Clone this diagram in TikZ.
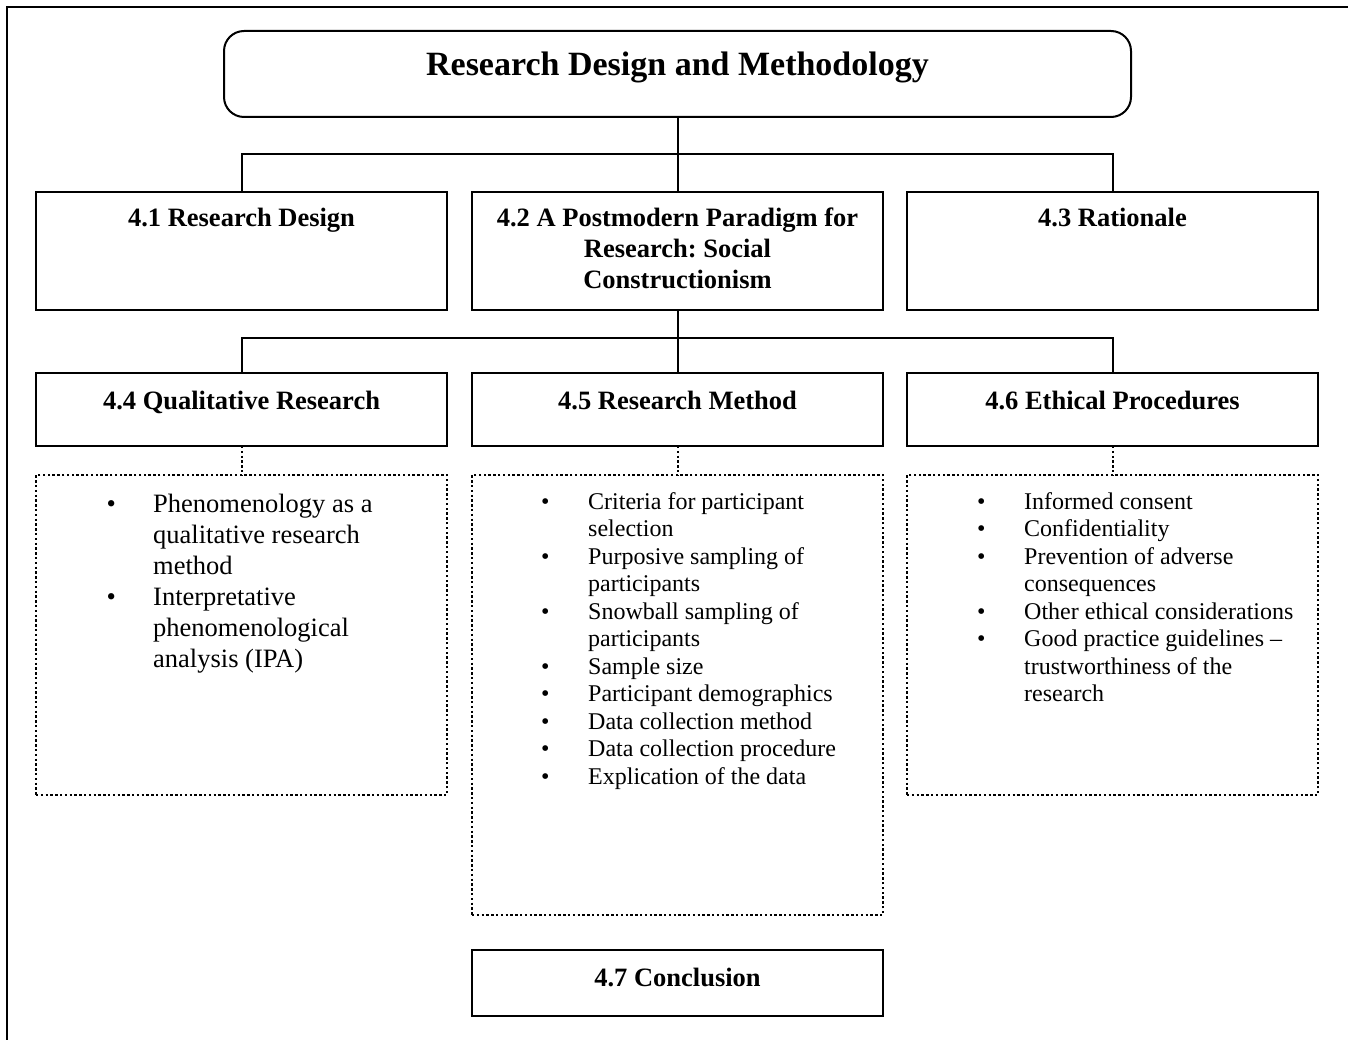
\documentclass[tikz,border=0pt]{standalone}
\usepackage{fontspec}
\setmainfont{Liberation Serif}
\usetikzlibrary{calc}
\frenchspacing

\begin{document}
\begin{tikzpicture}[x=1pt,y=-1pt,
  frame/.style={draw=black,line width=2pt},
  boxnode/.style={draw=black,line width=2pt,rectangle,inner sep=0pt,outer sep=0pt,anchor=north west},
  dotbox/.style={draw=black,line width=2pt,dash pattern=on 2.4pt off 2.4pt,rectangle,inner sep=0pt,outer sep=0pt,anchor=north west},
  link/.style={draw=black,line width=2pt},
  dotlink/.style={draw=black,line width=2pt,dash pattern=on 2.4pt off 2.4pt},
  headtext/.style={font=\fontsize{26.5}{31}\selectfont\bfseries,inner sep=0pt,align=center,anchor=north},
  titletext/.style={font=\fontsize{34}{40}\selectfont\bfseries,inner sep=0pt,anchor=north},
  listbig/.style={font=\fontsize{26.5}{31}\selectfont,inner sep=0pt,anchor=north west},
  listsmall/.style={font=\fontsize{24}{27.5}\selectfont,inner sep=0pt,anchor=north west}
]
\useasboundingbox (0,0) rectangle (1348,1040);

% page frame (runs off the right and bottom edges)
\draw[frame] (7,1040) -- (7,7) -- (1348,7);

% title
\node[boxnode,rounded corners=20pt,minimum width=907pt,minimum height=86pt] (title) at (224,31) {};
\node[titletext] (ttitle) at ($(title.north)+(0,16)$) {\strut Research Design and Methodology};

% first row
\node[boxnode,minimum width=411pt,minimum height=118pt] (b41) at (36,192) {};
\node[boxnode,minimum width=411pt,minimum height=118pt] (b42) at (472,192) {};
\node[boxnode,minimum width=411pt,minimum height=118pt] (b43) at (907,192) {};
\node[headtext] (t41) at ($(b41.north)+(0,12.3)$) {\strut 4.1 Research Design};
\node[headtext] (t42) at ($(b42.north)+(0,12.3)$) {\strut 4.2 A Postmodern Paradigm for\\\strut Research: Social\\\strut Constructionism};
\node[headtext] (t43) at ($(b43.north)+(0,12.3)$) {\strut 4.3 Rationale};

% second row
\node[boxnode,minimum width=411pt,minimum height=73pt] (b44) at (36,373) {};
\node[boxnode,minimum width=411pt,minimum height=73pt] (b45) at (472,373) {};
\node[boxnode,minimum width=411pt,minimum height=73pt] (b46) at (907,373) {};
\node[headtext] (t44) at ($(b44.north)+(0,14.3)$) {\strut 4.4 Qualitative Research};
\node[headtext] (t45) at ($(b45.north)+(0,14.3)$) {\strut 4.5 Research Method};
\node[headtext] (t46) at ($(b46.north)+(0,14.3)$) {\strut 4.6 Ethical Procedures};

% dotted content boxes
\node[dotbox,minimum width=411pt,minimum height=320pt] (l44) at (36,475) {};
\node[dotbox,minimum width=411pt,minimum height=440pt] (l45) at (472,475) {};
\node[dotbox,minimum width=411pt,minimum height=320pt] (l46) at (907,475) {};

\node[listbig] (i44) at (106.4,490.3) {%
\begin{tabular}{@{}p{46.6pt}@{}l@{}}
\textbullet & Phenomenology as a\\
 & qualitative research\\
 & method\\
\textbullet & Interpretative\\
 & phenomenological\\
 & analysis (IPA)
\end{tabular}};

\node[listsmall] (i45) at (540.8,489.75) {%
\begin{tabular}{@{}p{47.2pt}@{}l@{}}
\textbullet & Criteria for participant\\
 & selection\\
\textbullet & Purposive sampling of\\
 & participants\\
\textbullet & Snowball sampling of\\
 & participants\\
\textbullet & Sample size\\
\textbullet & Participant demographics\\
\textbullet & Data collection method\\
\textbullet & Data collection procedure\\
\textbullet & Explication of the data
\end{tabular}};

\node[listsmall] (i46) at (976.8,489.75) {%
\begin{tabular}{@{}p{47.2pt}@{}l@{}}
\textbullet & Informed consent\\
\textbullet & Confidentiality\\
\textbullet & Prevention of adverse\\
 & consequences\\
\textbullet & Other ethical considerations\\
\textbullet & Good practice guidelines --\\
 & trustworthiness of the\\
 & research
\end{tabular}};

% conclusion
\node[boxnode,minimum width=411pt,minimum height=66pt] (b47) at (472,950) {};
\node[headtext] (t47) at ($(b47.north)+(0,14.3)$) {\strut 4.7 Conclusion};

% connectors
\coordinate (bus1) at (title.south |- 0,154);
\coordinate (bus2) at (b42.south |- 0,338);
\draw[link] (title.south) -- (b42.north);
\draw[link] (b41.north) |- (bus1) -| (b43.north);
\draw[link] (b42.south) -- (b45.north);
\draw[link] (b44.north) |- (bus2) -| (b46.north);
\draw[dotlink] (b44.south) -- (l44.north);
\draw[dotlink] (b45.south) -- (l45.north);
\draw[dotlink] (b46.south) -- (l46.north);
\end{tikzpicture}
\end{document}
